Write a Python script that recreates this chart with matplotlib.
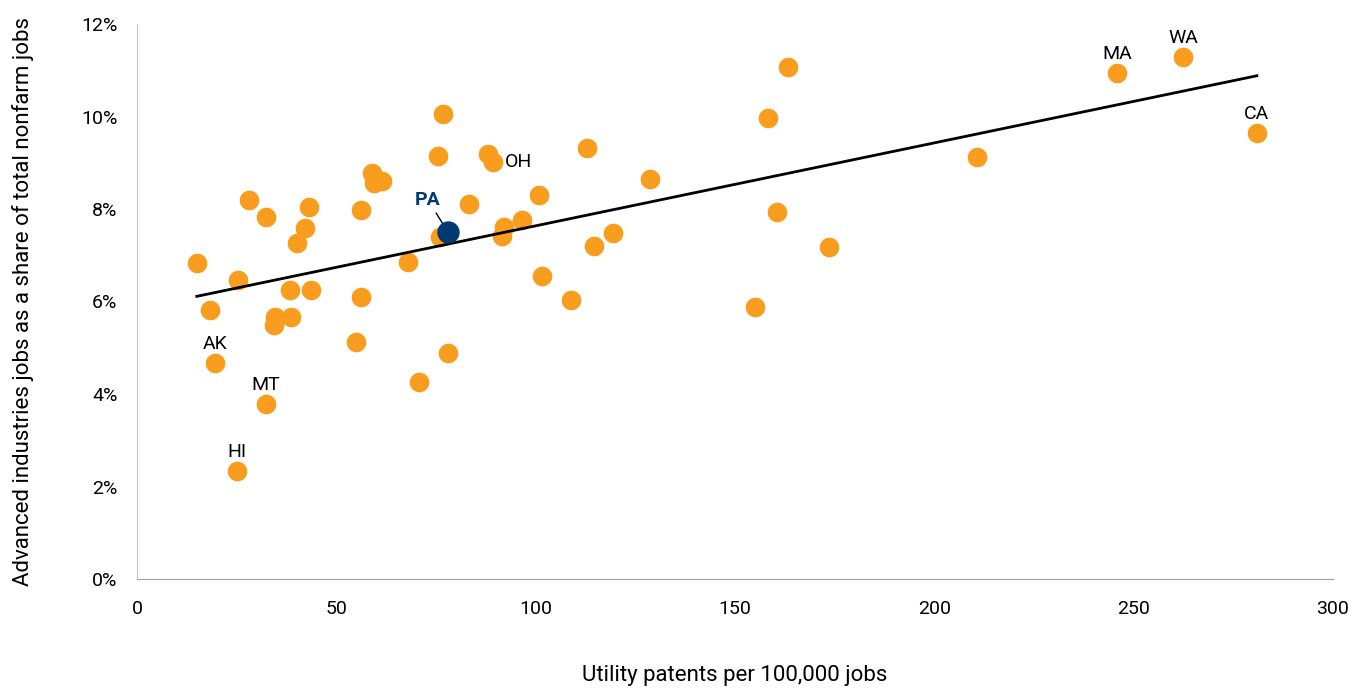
import numpy as np
import matplotlib.pyplot as plt

plt.rcParams['font.family'] = ['Roboto', 'DejaVu Sans']

# utility patents per 100k jobs, advanced industries share of jobs (%)
patents = [15.0, 18.3, 19.6, 25.1, 25.3, 28.1, 32.4, 32.4, 34.6, 34.4,
           38.4, 38.6, 40.1, 42.1, 43.1, 43.6, 54.9, 56.2, 56.2, 58.9,
           59.4, 61.5, 68.0, 70.7, 75.5, 76.8, 76.0, 78.0, 83.3, 88.0,
           89.3, 91.5, 92.1, 96.6, 100.8, 101.6, 108.9, 112.9, 114.6, 119.4,
           128.7, 155.0, 158.3, 160.5, 163.3, 173.6, 210.7, 245.8, 262.4, 280.9]
share = [6.83, 5.82, 4.67, 2.34, 6.46, 8.19, 7.83, 3.78, 5.66, 5.49,
         6.25, 5.66, 7.26, 7.59, 8.04, 6.25, 5.12, 6.10, 7.98, 8.78,
         8.56, 8.61, 6.85, 4.26, 9.15, 10.05, 7.39, 4.89, 8.11, 9.19,
         9.02, 7.42, 7.61, 7.76, 8.30, 6.55, 6.03, 9.32, 7.20, 7.48,
         8.65, 5.88, 9.97, 7.94, 11.07, 7.18, 9.12, 10.94, 11.29, 9.64]

pa_patents = 78.0
pa_share = 7.50

labels = {'AK': (19.6, 4.67), 'HI': (25.1, 2.34), 'MT': (32.4, 3.78),
          'OH': (89.3, 9.02), 'MA': (245.8, 10.94), 'WA': (262.4, 11.29),
          'CA': (280.9, 9.64)}

xs = np.array(patents + [pa_patents])
ys = np.array(share + [pa_share])

fig = plt.figure(figsize=(13.55, 6.88), dpi=100)
ax = fig.add_axes([137/1355, 1 - 579/688, (1333-137)/1355, (579-24)/688])

orange = '#F89D1E'
navy = '#003A70'

ax.scatter(patents, share, s=200, color=orange, zorder=2, linewidths=0)

m, b = np.polyfit(xs, ys, 1)
lx = np.array([xs.min(), xs.max()])
ax.plot(lx, m * lx + b, color='black', lw=2, zorder=3)

ax.scatter([pa_patents], [pa_share], s=260, color=navy, zorder=4, linewidths=0)
ax.annotate('PA', xy=(pa_patents, pa_share), xytext=(pa_patents - 5, pa_share + 0.5),
            ha='center', va='bottom', fontsize=14, fontweight='bold', color=navy,
            arrowprops=dict(arrowstyle='-', color='black', lw=1,
                            shrinkA=1, shrinkB=6))

for name, (px, py) in labels.items():
    if name == 'OH':
        ax.text(px + 3, py, name, ha='left', va='center', fontsize=14)
    else:
        ax.text(px, py + 0.30, name, ha='center', va='baseline', fontsize=14)

ax.set_xlim(0, 300)
ax.set_ylim(0, 12)
ax.set_xticks(np.arange(0, 301, 50))
ax.set_yticks(np.arange(0, 13, 2))
ax.set_yticklabels([f'{v}%' for v in range(0, 13, 2)])
ax.tick_params(length=0, labelsize=14, pad=14)
ax.tick_params(axis='x', pad=15)

for side in ['top', 'right']:
    ax.spines[side].set_visible(False)
ax.spines['left'].set_color('#C8C8C8')
ax.spines['bottom'].set_color('#A0A0A0')

ax.set_xlabel('Utility patents per 100,000 jobs', fontsize=16, labelpad=34)
ax.set_ylabel('Advanced industries jobs as a share of total nonfarm jobs', fontsize=16, labelpad=34)

fig.savefig('out.png', dpi=100)
